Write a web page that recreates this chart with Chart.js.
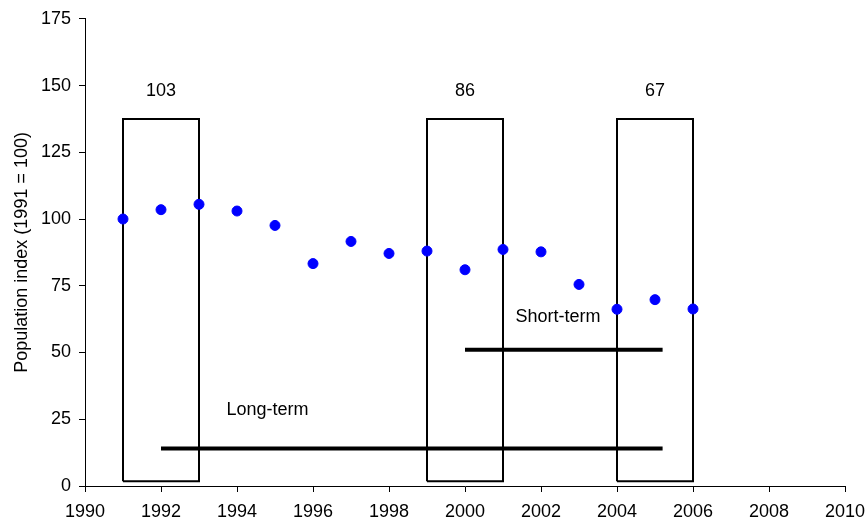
<!DOCTYPE html>
<html>
<head>
<meta charset="utf-8">
<script src="https://cdn.jsdelivr.net/npm/chart.js@4.4.1/dist/chart.umd.min.js"></script>
<style>
  html, body { margin: 0; padding: 0; background: #fff; }
  #wrap { width: 867px; height: 525px; position: relative; }
</style>
</head>
<body>
<div id="wrap"><canvas id="chart"></canvas></div>
<script>
// Population index, 1991 = 100
const years = [1991, 1992, 1993, 1994, 1995, 1996, 1997, 1998, 1999, 2000, 2001, 2002, 2003, 2004, 2005, 2006];
const indexValues = [100, 103.5, 105.5, 103, 97.6, 83.3, 91.6, 87.1, 88, 81, 88.6, 87.7, 75.5, 66.2, 69.8, 66.3];

// three-year averaging windows
const boxStart = [1991, 1999, 2004];
const boxEnd = [1993, 2001, 2006];
const boxLow = 1.75;
const boxHigh = 137.5;
const boxLabels = ['103', '86', '67'];
const boxLabelY = 148;

// trend periods
const trendNames = ['Long-term', 'Short-term'];
const trendFrom = [1992, 2000];
const trendTo = [2005.2, 2005.2];
const trendLevel = [14, 51];
const trendTextX = [1994.8, 2002.45];
const trendTextY = [28.3, 63.3];

const xTicks = [1990, 1992, 1994, 1996, 1998, 2000, 2002, 2004, 2006, 2008, 2010];

const font = 'Arial, "Liberation Sans", sans-serif';

const datasets = [];

boxStart.forEach((s, i) => {
  const e = boxEnd[i];
  datasets.push({
    type: 'line',
    data: [
      { x: s, y: boxLow }, { x: s, y: boxHigh }, { x: e, y: boxHigh },
      { x: e, y: boxLow }, { x: s, y: boxLow }
    ],
    borderColor: '#000',
    borderWidth: 2,
    pointRadius: 0,
    fill: false,
    tension: 0,
    order: 2
  });
});

trendFrom.forEach((f, i) => {
  datasets.push({
    type: 'line',
    data: [{ x: f, y: trendLevel[i] }, { x: trendTo[i], y: trendLevel[i] }],
    borderColor: '#000',
    borderWidth: 4,
    pointRadius: 0,
    fill: false,
    order: 2
  });
});

datasets.push({
  type: 'scatter',
  data: years.map((yr, i) => ({ x: yr, y: indexValues[i] })),
  backgroundColor: '#0000ff',
  borderColor: '#0000ff',
  pointRadius: 5,
  pointHoverRadius: 5,
  order: 1
});

// text annotations placed through the scales
const notes = {
  id: 'notes',
  afterDatasetsDraw(chart) {
    const { ctx, scales: { x, y } } = chart;
    ctx.save();
    ctx.fillStyle = '#000';
    ctx.font = '18px ' + font;
    ctx.textAlign = 'center';
    ctx.textBaseline = 'middle';
    boxLabels.forEach((t, i) => {
      const cx = x.getPixelForValue((boxStart[i] + boxEnd[i]) / 2);
      ctx.fillText(t, cx, y.getPixelForValue(boxLabelY));
    });
    trendNames.forEach((t, i) => {
      ctx.fillText(t, x.getPixelForValue(trendTextX[i]), y.getPixelForValue(trendTextY[i]));
    });
    ctx.restore();
  }
};

new Chart(document.getElementById('chart'), {
  type: 'scatter',
  data: { datasets },
  options: {
    responsive: true,
    maintainAspectRatio: false,
    animation: false,
    layout: { padding: { top: 18, right: 0, left: 0, bottom: 0 } },
    plugins: {
      legend: { display: false },
      tooltip: { enabled: false }
    },
    scales: {
      x: {
        type: 'linear',
        min: 1990,
        max: 2010,
        afterBuildTicks(scale) { scale.ticks = xTicks.map(v => ({ value: v })); },
        afterFit(scale) {
          scale.height = 39;
          scale.paddingLeft = 0;
          scale.paddingRight = 22;
        },
        border: { color: '#000', width: 1 },
        grid: { display: true, drawOnChartArea: false, drawTicks: true, tickLength: 6, color: '#000' },
        ticks: {
          color: '#000',
          font: { family: font, size: 18 },
          padding: 9,
          maxRotation: 0,
          callback: v => String(v)
        }
      },
      y: {
        min: 0,
        max: 175,
        afterFit(scale) { scale.width = 85; },
        border: { color: '#000', width: 1 },
        grid: { display: true, drawOnChartArea: false, drawTicks: true, tickLength: 6, color: '#000' },
        ticks: {
          stepSize: 25,
          color: '#000',
          font: { family: font, size: 18 },
          padding: 8
        },
        title: {
          display: true,
          text: 'Population index (1991 = 100)',
          color: '#000',
          font: { family: font, size: 18 },
          padding: { top: 11, bottom: 0 }
        }
      }
    }
  },
  plugins: [notes]
});
</script>
</body>
</html>
